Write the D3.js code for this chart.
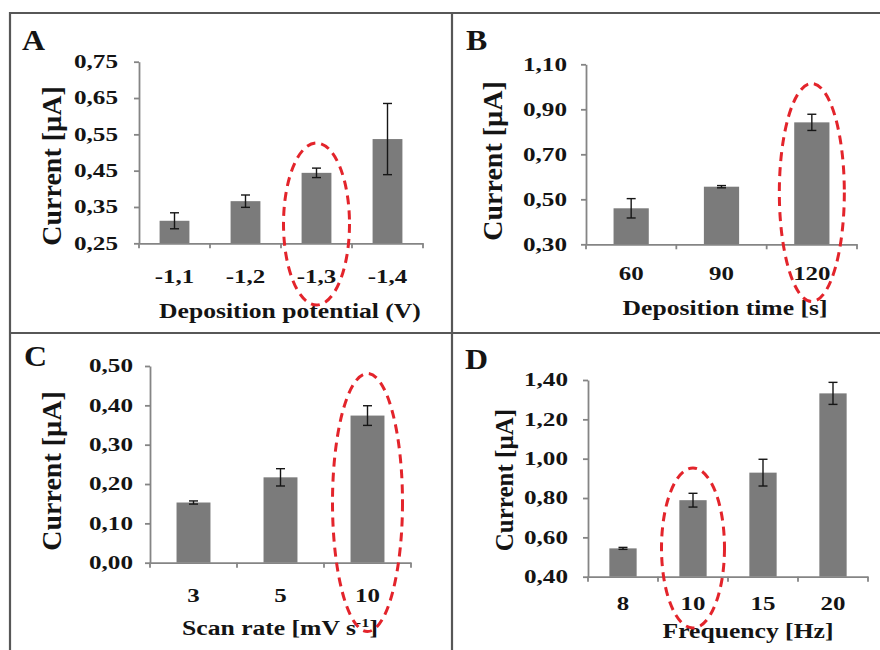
<!DOCTYPE html>
<html>
<head>
<meta charset="utf-8">
<script src="https://cdn.jsdelivr.net/npm/d3@7"></script>
<style>
  html, body { margin: 0; padding: 0; background: #fff; }
  svg { display: block; }
</style>
</head>
<body>
<svg id="fig" width="880" height="650"></svg>
<script>
// ---- Panel A: deposition potential ----
const potentialLabels  = ["-1,1", "-1,2", "-1,3", "-1,4"];
const potentialCurrent = [0.312, 0.366, 0.444, 0.537];
const potentialError   = [0.022, 0.017, 0.013, 0.098];
const potentialTicks   = [0.25, 0.35, 0.45, 0.55, 0.65, 0.75];

// ---- Panel B: deposition time ----
const timeLabels  = ["60", "90", "120"];
const timeCurrent = [0.460, 0.556, 0.842];
const timeError   = [0.043, 0.005, 0.036];
const timeTicks   = [0.30, 0.50, 0.70, 0.90, 1.10];

// ---- Panel C: scan rate ----
const scanLabels  = ["3", "5", "10"];
const scanCurrent = [0.153, 0.217, 0.374];
const scanError   = [0.004, 0.022, 0.025];
const scanTicks   = [0.00, 0.10, 0.20, 0.30, 0.40, 0.50];

// ---- Panel D: frequency ----
const freqLabels  = ["8", "10", "15", "20"];
const freqCurrent = [0.544, 0.789, 0.929, 1.332];
const freqError   = [0.005, 0.035, 0.068, 0.056];
const freqTicks   = [0.40, 0.60, 0.80, 1.00, 1.20, 1.40];

const SERIF = "'Liberation Serif', 'Times New Roman', serif";
const TEXT = "#141414";
const AXIS = "#858585";
const BAR = "#7b7b7b";
const RING = "#e3242b";

// decimal comma, two digits
const fmt = d3.formatLocale({ decimal: ",", thousands: ".", grouping: [3], currency: ["", ""] }).format(".2f");

const svg = d3.select("#fig");

// layout of the four panels
const panels = [
  { letter: "A", letterAt: [22, 50],
    cats: potentialLabels, vals: potentialCurrent, errs: potentialError, ticks: potentialTicks,
    x0: 139, x1: 423, yBottom: 243.3, yTop: 61.7, barFrac: 0.42, tickGap: 21,
    yTitle: { x: 61, y: 166, size: 28 }, xLabelY: 40,
    xTitle: { x: 290, y: 318, parts: ["Deposition potential (V)"] },
    ring: { cat: "-1,3", cy: 224, rx: 33, ry: 81 } },
  { letter: "B", letterAt: [466, 50],
    cats: timeLabels, vals: timeCurrent, errs: timeError, ticks: timeTicks,
    x0: 586, x1: 857, yBottom: 244.3, yTop: 64.3, barFrac: 0.39, tickGap: 19,
    yTitle: { x: 502, y: 161, size: 28 }, xLabelY: 36,
    xTitle: { x: 725, y: 315, parts: ["Deposition time [s]"] },
    ring: { cat: "120", cy: 192.5, rx: 32.5, ry: 109 } },
  { letter: "C", letterAt: [24, 366],
    cats: scanLabels, vals: scanCurrent, errs: scanError, ticks: scanTicks,
    x0: 150, x1: 411, yBottom: 562.7, yTop: 366, barFrac: 0.39, tickGap: 17,
    yTitle: { x: 61, y: 471, size: 28 }, xLabelY: 39,
    xTitle: { x: 280, y: 635, parts: ["Scan rate [mV s", "-1", "]"] },
    ring: { cat: "10", cy: 502.5, rx: 35, ry: 129 } },
  { letter: "D", letterAt: [465, 369],
    cats: freqLabels, vals: freqCurrent, errs: freqError, ticks: freqTicks,
    x0: 588, x1: 868, yBottom: 576.7, yTop: 380, barFrac: 0.39, tickGap: 20,
    yTitle: { x: 513, y: 480, size: 25 }, xLabelY: 33.5,
    xTitle: { x: 748, y: 638, parts: ["Frequency [Hz]"] },
    ring: { cat: "10", cy: 548, rx: 31.5, ry: 80 } }
];

// outer frame and dividers
const frame = svg.append("g").attr("stroke", "#575757").attr("stroke-width", 2.2);
frame.append("line").attr("x1", 10).attr("x2", 880).attr("y1", 13).attr("y2", 13);
frame.append("line").attr("x1", 10).attr("x2", 880).attr("y1", 333).attr("y2", 333);
frame.append("line").attr("x1", 10).attr("x2", 10).attr("y1", 12).attr("y2", 650);
frame.append("line").attr("x1", 452).attr("x2", 452).attr("y1", 12).attr("y2", 650);

const Y_SX = 1.4, X_SX = 1.28, T_SX = 1.25;

panels.forEach(p => {
  const g = svg.append("g");
  const pad = 1 - p.barFrac;

  const x = d3.scaleBand().domain(p.cats).range([p.x0, p.x1])
    .paddingInner(pad).paddingOuter(pad / 2);
  const y = d3.scaleLinear().domain([p.ticks[0], p.ticks[p.ticks.length - 1]])
    .range([p.yBottom, p.yTop]);

  // bars
  g.selectAll("rect.bar").data(p.vals).join("rect")
    .attr("class", "bar")
    .attr("x", (d, i) => x(p.cats[i]))
    .attr("width", x.bandwidth())
    .attr("y", d => y(d))
    .attr("height", d => y(p.ticks[0]) - y(d))
    .attr("fill", BAR);

  // error bars
  const eb = g.append("g").attr("stroke", "#161616").attr("stroke-width", 1.4);
  p.vals.forEach((v, i) => {
    const cx = x(p.cats[i]) + x.bandwidth() / 2;
    const lo = y(v - p.errs[i]), hi = y(v + p.errs[i]);
    eb.append("line").attr("x1", cx).attr("x2", cx).attr("y1", lo).attr("y2", hi);
    eb.append("line").attr("x1", cx - 4.5).attr("x2", cx + 4.5).attr("y1", lo).attr("y2", lo);
    eb.append("line").attr("x1", cx - 4.5).attr("x2", cx + 4.5).attr("y1", hi).attr("y2", hi);
  });

  // value axis
  const ya = g.append("g").attr("transform", `translate(${p.x0},0)`)
    .call(d3.axisLeft(y).tickValues(p.ticks).tickFormat(fmt)
      .tickSizeInner(5).tickSizeOuter(0).tickPadding(p.tickGap - 5));
  ya.selectAll("path, line").attr("stroke", AXIS).attr("stroke-width", 1.8);
  ya.selectAll("text")
    .attr("font-family", SERIF).attr("font-weight", "bold").attr("font-size", 18)
    .attr("fill", TEXT)
    .attr("x", -p.tickGap / Y_SX)
    .attr("transform", `scale(${Y_SX},1)`);

  // category axis
  const xa = g.append("g").attr("transform", `translate(0,${p.yBottom})`)
    .call(d3.axisBottom(x).tickSizeInner(0).tickSizeOuter(0));
  xa.selectAll("path").attr("stroke", AXIS).attr("stroke-width", 1.8);
  xa.selectAll("line").remove();
  xa.selectAll("text")
    .attr("font-family", SERIF).attr("font-weight", "bold").attr("font-size", 19.5)
    .attr("fill", TEXT)
    .attr("y", p.xLabelY).attr("dy", 0)
    .attr("transform", `scale(${X_SX},1)`);

  // tick marks between categories
  const step = x.step();
  g.append("g").selectAll("line")
    .data(d3.range(p.cats.length + 1).map(i => p.x0 + i * step))
    .join("line")
    .attr("x1", d => d).attr("x2", d => d)
    .attr("y1", p.yBottom).attr("y2", p.yBottom + 5)
    .attr("stroke", AXIS).attr("stroke-width", 1.8);

  // axis titles
  g.append("text")
    .attr("transform", `translate(${p.yTitle.x},${p.yTitle.y}) rotate(-90)`)
    .attr("text-anchor", "middle")
    .attr("font-family", SERIF).attr("font-weight", "bold")
    .attr("font-size", p.yTitle.size).attr("fill", TEXT)
    .text("Current [µA]");

  const xt = g.append("text")
    .attr("transform", `translate(${p.xTitle.x},${p.xTitle.y}) scale(${T_SX},1)`)
    .attr("text-anchor", "middle")
    .attr("font-family", SERIF).attr("font-weight", "bold")
    .attr("font-size", 20.5).attr("fill", TEXT);
  xt.append("tspan").text(p.xTitle.parts[0]);
  if (p.xTitle.parts.length > 1) {
    xt.append("tspan").attr("dy", -8).attr("font-size", 13).text(p.xTitle.parts[1]);
    xt.append("tspan").attr("dy", 8).text(p.xTitle.parts[2]);
  }

  // panel letter
  g.append("text")
    .attr("transform", `translate(${p.letterAt[0]},${p.letterAt[1]}) scale(1.1,1)`)
    .attr("font-family", SERIF).attr("font-weight", "bold")
    .attr("font-size", 29).attr("fill", TEXT)
    .text(p.letter);

  // dashed ring around the selected condition
  g.append("ellipse")
    .attr("cx", x(p.ring.cat) + x.bandwidth() / 2)
    .attr("cy", p.ring.cy)
    .attr("rx", p.ring.rx).attr("ry", p.ring.ry)
    .attr("fill", "none")
    .attr("stroke", RING).attr("stroke-width", 3)
    .attr("stroke-dasharray", "9 6");
});
</script>
</body>
</html>
